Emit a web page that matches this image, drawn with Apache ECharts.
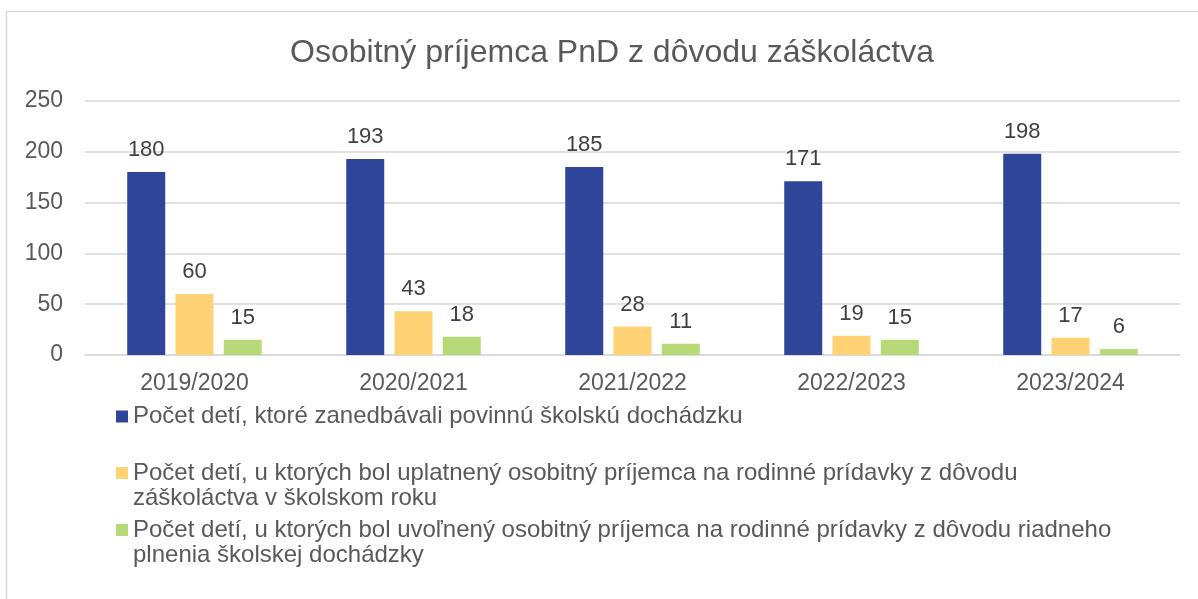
<!DOCTYPE html>
<html>
<head>
<meta charset="utf-8">
<script src="https://cdn.jsdelivr.net/npm/echarts@6/dist/echarts.min.js"></script>
<style>
html,body{margin:0;padding:0;background:#fff;}
#c{width:1198px;height:599px;}
</style>
</head>
<body>
<div id="c"></div>
<script>
const titleText = 'Osobitný príjemca PnD z dôvodu záškoláctva';
const categories = ['2019/2020', '2020/2021', '2021/2022', '2022/2023', '2023/2024'];
const seriesNames = [
  'Počet detí, ktoré zanedbávali povinnú školskú dochádzku',
  'Počet detí, u ktorých bol uplatnený osobitný príjemca na rodinné prídavky z dôvodu\nzáškoláctva v školskom roku',
  'Počet detí, u ktorých bol uvoľnený osobitný príjemca na rodinné prídavky z dôvodu riadneho\nplnenia školskej dochádzky'
];
const neglected = [180, 193, 185, 171, 198];
const applied = [60, 43, 28, 19, 17];
const released = [15, 18, 11, 15, 6];
const yTicks = [0, 50, 100, 150, 200, 250];

const colors = ['#2F4599', '#FFD275', '#B7D977'];
const font = 'Liberation Sans, Arial, sans-serif';
const values = [neglected, applied, released];

const chart = echarts.init(document.getElementById('c'), null, {renderer: 'canvas'});

const legendTops = [404, 435.5, 492.5];
const legends = seriesNames.map((n, i) => ({
  show: true,
  orient: 'vertical',
  left: 116,
  top: legendTops[i],
  padding: 0,
  itemWidth: 12,
  itemHeight: 12,
  icon: 'rect',
  selectedMode: false,
  data: [n],
  formatter: function (name) {
    return name.indexOf('\n') >= 0 ? ' \n' + name : name;
  },
  textStyle: {
    fontFamily: font,
    fontSize: 24,
    color: '#595959',
    lineHeight: 25
  }
}));

const option = {
  backgroundColor: '#ffffff',
  animation: false,
  title: {
    text: titleText,
    left: 607,
    top: 32,
    textAlign: 'center',
    textStyle: {fontFamily: font, fontSize: 32, fontWeight: 'normal', color: '#595959'}
  },
  graphic: [{
    type: 'rect',
    shape: {x: 6.5, y: 11.5, width: 1300, height: 700},
    style: {fill: 'none', stroke: '#D9D9D9', lineWidth: 1.5},
    silent: true,
    z: -10
  }],
  legend: legends,
  grid: {left: 85, right: 18, top: 101, bottom: 244, containLabel: false},
  xAxis: {
    type: 'category',
    data: categories,
    axisLine: {show: true, lineStyle: {color: '#D9D9D9', width: 1.5}},
    axisTick: {show: false},
    axisLabel: {fontFamily: font, fontSize: 23, color: '#595959', margin: 17}
  },
  yAxis: {
    type: 'value',
    min: yTicks[0],
    max: yTicks[yTicks.length - 1],
    interval: yTicks[1] - yTicks[0],
    axisLine: {show: false},
    axisTick: {show: false},
    splitLine: {lineStyle: {color: '#D9D9D9', width: 1.5}},
    axisLabel: {fontFamily: font, fontSize: 23, color: '#595959', margin: 22}
  },
  series: seriesNames.map((n, i) => ({
    name: n,
    type: 'bar',
    data: values[i],
    barWidth: 38,
    barGap: '27%',
    itemStyle: {color: colors[i]},
    label: {
      show: true,
      position: 'top',
      distance: 11,
      fontFamily: font,
      fontSize: 22,
      color: '#404040'
    }
  }))
};
chart.setOption(option);
</script>
</body>
</html>
